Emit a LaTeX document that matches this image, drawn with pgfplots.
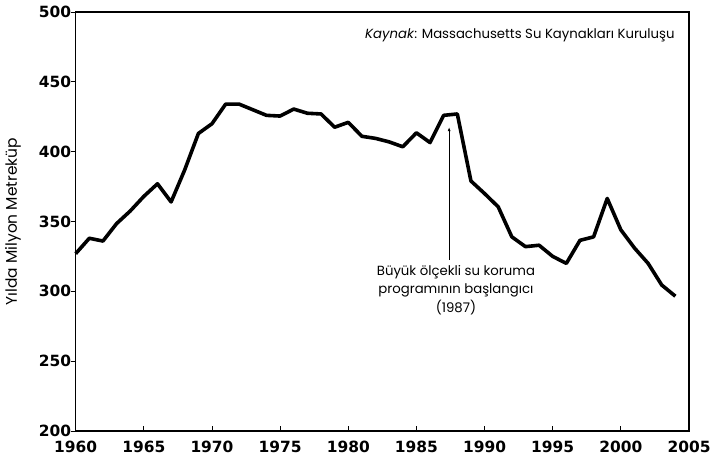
\documentclass[border=0pt]{standalone}
\usepackage{fontspec}
\setmainfont{Poppins}
\newfontfamily\tickfont{DejaVu Sans}
\usepackage{pgfplots}
\pgfplotsset{compat=1.18}
\usetikzlibrary{arrows.meta}
\begin{document}
\begin{tikzpicture}
\useasboundingbox (-75.7bp,-32bp) rectangle (642.3bp,431bp);
\begin{axis}[
  scale only axis,
  width=613.3bp, height=419bp,
  xmin=1960, xmax=2005, ymin=200, ymax=500,
  xtick={1960,1965,...,2005},
  ytick={200,250,...,500},
  tick pos=left,
  tick align=inside,
  major tick length=5bp,
  every tick/.style={black, line width=0.9bp},
  y tick style={xshift=-5bp},
  axis line style={line width=1.6bp},
  /pgf/number format/1000 sep={},
  /pgf/number format/assume math mode=true,
  ticklabel style={font=\tickfont\bfseries\fontsize{15.5}{18}\selectfont},
  xticklabel style={yshift=-7bp},
  yticklabel style={xshift=-1bp},
  ylabel={Yılda Milyon Metreküp},
  ylabel style={at={(rel axis cs:0,0.5)}, anchor=center, yshift=62.7bp, font=\fontsize{15.5}{17}\selectfont},
  clip=false,
]
\addplot[black, line width=3.6bp, line join=round] coordinates {
(1960,327) (1961,338) (1962,336) (1963,348.5) (1964,357.5) (1965,368)
(1966,377) (1967,364) (1968,387) (1969,413) (1970,420) (1971,434)
(1972,434) (1973,430) (1974,426) (1975,425.5) (1976,430.5) (1977,427.5)
(1978,427) (1979,417.5) (1980,421) (1981,411) (1982,409.5) (1983,407)
(1984,403.5) (1985,413.5) (1986,406.5) (1987,426) (1988,427) (1989,379)
(1990,370) (1991,360.5) (1992,339) (1993,332) (1994,333) (1995,325)
(1996,320) (1997,336.5) (1998,339) (1999,366.5) (2000,344) (2001,331)
(2002,320) (2003,304.5) (2004,296.5)
};
\draw[line width=1bp, -{Latex[length=4bp,width=3bp]}] (axis cs:1987.4,322.4) -- (axis cs:1987.4,417.6);
\node[align=center, font=\fontsize{13.3}{18.5}\selectfont] at (axis cs:1987.9,301) {Büyük ölçekli su koruma\\programının başlangıcı\\(1987)};
\node[anchor=east, font=\fontsize{13.3}{15}\selectfont] at (axis cs:2004.2,483.5) {\textit{Kaynak}: Massachusetts Su Kaynakları Kuruluşu};
\end{axis}
\end{tikzpicture}
\end{document}
